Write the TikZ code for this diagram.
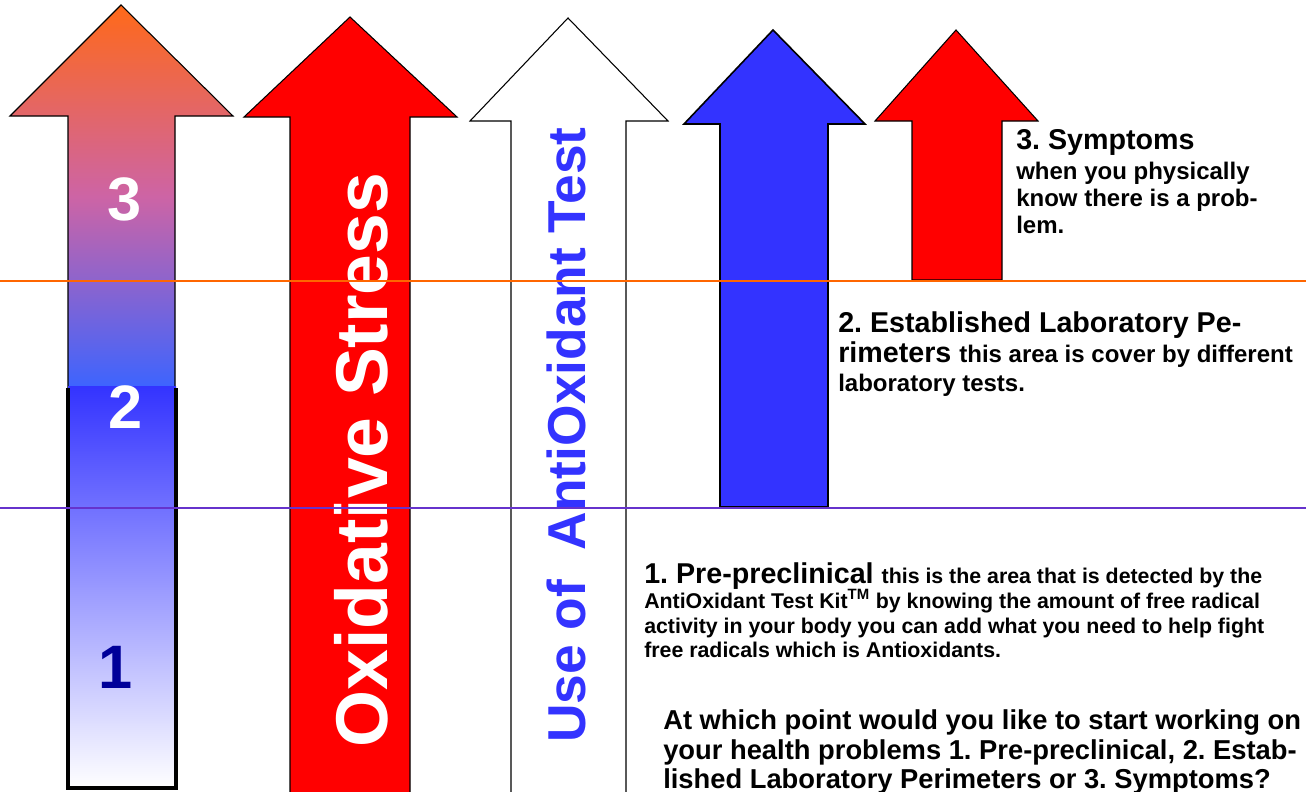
\documentclass[tikz,border=0pt]{standalone}
\usepackage{fontspec}
\setmainfont{Liberation Sans}
\frenchspacing
\definecolor{arrowred}{RGB}{255,0,0}
\definecolor{arrowblue}{RGB}{51,51,255}
\definecolor{tiporange}{RGB}{255,105,25}
\definecolor{midpink}{RGB}{205,100,165}
\definecolor{shaftblue}{RGB}{60,100,255}
\definecolor{lineorange}{RGB}{255,102,0}
\definecolor{linepurple}{RGB}{102,51,204}
\definecolor{darkblue}{RGB}{0,0,153}
\newcommand{\headsize}{\fontsize{21.5}{24}\selectfont}
\newcommand{\bodysize}{\fontsize{18}{20}\selectfont}
\newcommand{\notesize}{\fontsize{16}{18}\selectfont}
\tikzset{
    arrow_base/.style = {draw=black, line width=0.8pt, line join=miter},
    red_arrow/.style = {arrow_base, fill=arrowred},
    blue_arrow/.style = {arrow_base, fill=arrowblue, line width=1.2pt},
    white_arrow/.style = {arrow_base, fill=white},
    grad_arrow/.style = {arrow_base, top color=tiporange, bottom color=shaftblue, middle color=midpink},
    level_line/.style = {line width=1.5pt},
    digit/.style = {anchor=base, inner sep=0pt, font=\fontsize{46}{46}\selectfont\bfseries},
    side_text/.style = {anchor=base, inner sep=0pt, rotate=90, font=\bfseries},
    head_text/.style = {anchor=base west, inner sep=0pt, font=\headsize\bfseries},
    body_text/.style = {anchor=base west, inner sep=0pt, font=\bodysize\bfseries},
    note_text/.style = {anchor=base west, inner sep=0pt, font=\notesize\bfseries},
    ask_text/.style = {anchor=base west, inner sep=0pt, font=\fontsize{20.5}{22}\selectfont\bfseries}
}
\begin{document}
\begin{tikzpicture}[x=0.75pt, y=-0.75pt]
    \useasboundingbox (0,0) rectangle (1306,792);
    \clip (0,0) rectangle (1306,792);

    \draw[grad_arrow] (121,5) -- (233,116) -- (175,116) -- (175,388)
        -- (68,388) -- (68,116) -- (10,116) -- cycle;
    \shade[top color=arrowblue, bottom color=white] (68,386) rectangle (176,788);
    \draw[line width=3pt, line join=miter] (68,388) -- (68,788) -- (176,788) -- (176,388);

    \draw[red_arrow] (350,17) -- (457,117) -- (410,117) -- (410,800)
        -- (290,800) -- (290,117) -- (244,117) -- cycle;
    \draw[white_arrow] (568,18) -- (668,121) -- (626,121) -- (626,800)
        -- (511,800) -- (511,121) -- (470,121) -- cycle;
    \draw[blue_arrow] (773,30) -- (865,124) -- (828,124) -- (828,507)
        -- (720,507) -- (720,124) -- (684,124) -- cycle;
    \draw[red_arrow] (956,30) -- (1038,121) -- (1002,121) -- (1002,280)
        -- (912,280) -- (912,121) -- (875,121) -- cycle;

    \node[digit, white] (num3) at (125,220) {3};
    \node[digit, white] (num2) at (126,428) {2};
    \node[digit, darkblue] (num1) at (116,688) {1};

    \node[side_text, white, font=\fontsize{55}{55}\selectfont\bfseries] (oxi) at (387,460) {Oxidative Stress};
    \node[side_text, arrowblue, font=\fontsize{40}{40}\selectfont\bfseries] (use) at (585,435) {Use of~ AntiOxidant Test};

    \node[head_text] (sym_a) at (1016,149) {3. Symptoms};
    \node[body_text] (sym_b) at (1016,179) {when you physically};
    \node[body_text] (sym_c) at (1016,206) {know there is a prob-};
    \node[body_text] (sym_d) at (1016,233) {lem.};

    \node[head_text] (lab_a) at (838,332) {2. Established Laboratory Pe-};
    \node[head_text] (lab_b) at (838,362) {rimeters {\bodysize this area is cover by different}};
    \node[body_text] (lab_c) at (838,391) {laboratory tests.};

    \node[head_text] (pre_a) at (644,583) {1. Pre-preclinical {\notesize this is the area that is detected by the}};
    \node[note_text] (pre_b) at (644,608) {AntiOxidant Test Kit\textsuperscript{TM} by knowing the amount of free radical};
    \node[note_text] (pre_c) at (644,633) {activity in your body you can add what you need to help fight};
    \node[note_text] (pre_d) at (644,657) {free radicals which is Antioxidants.};

    \node[ask_text] (ask_a) at (663,729) {At which point would you like to start working on};
    \node[ask_text] (ask_b) at (663,759) {your health problems 1. Pre-preclinical, 2. Estab-};
    \node[ask_text] (ask_c) at (663,788) {lished Laboratory Perimeters or 3. Symptoms?};

    \draw[level_line, lineorange] (0,281) -- (1306,281);
    \draw[level_line, linepurple] (0,508) -- (1306,508);
\end{tikzpicture}
\end{document}
